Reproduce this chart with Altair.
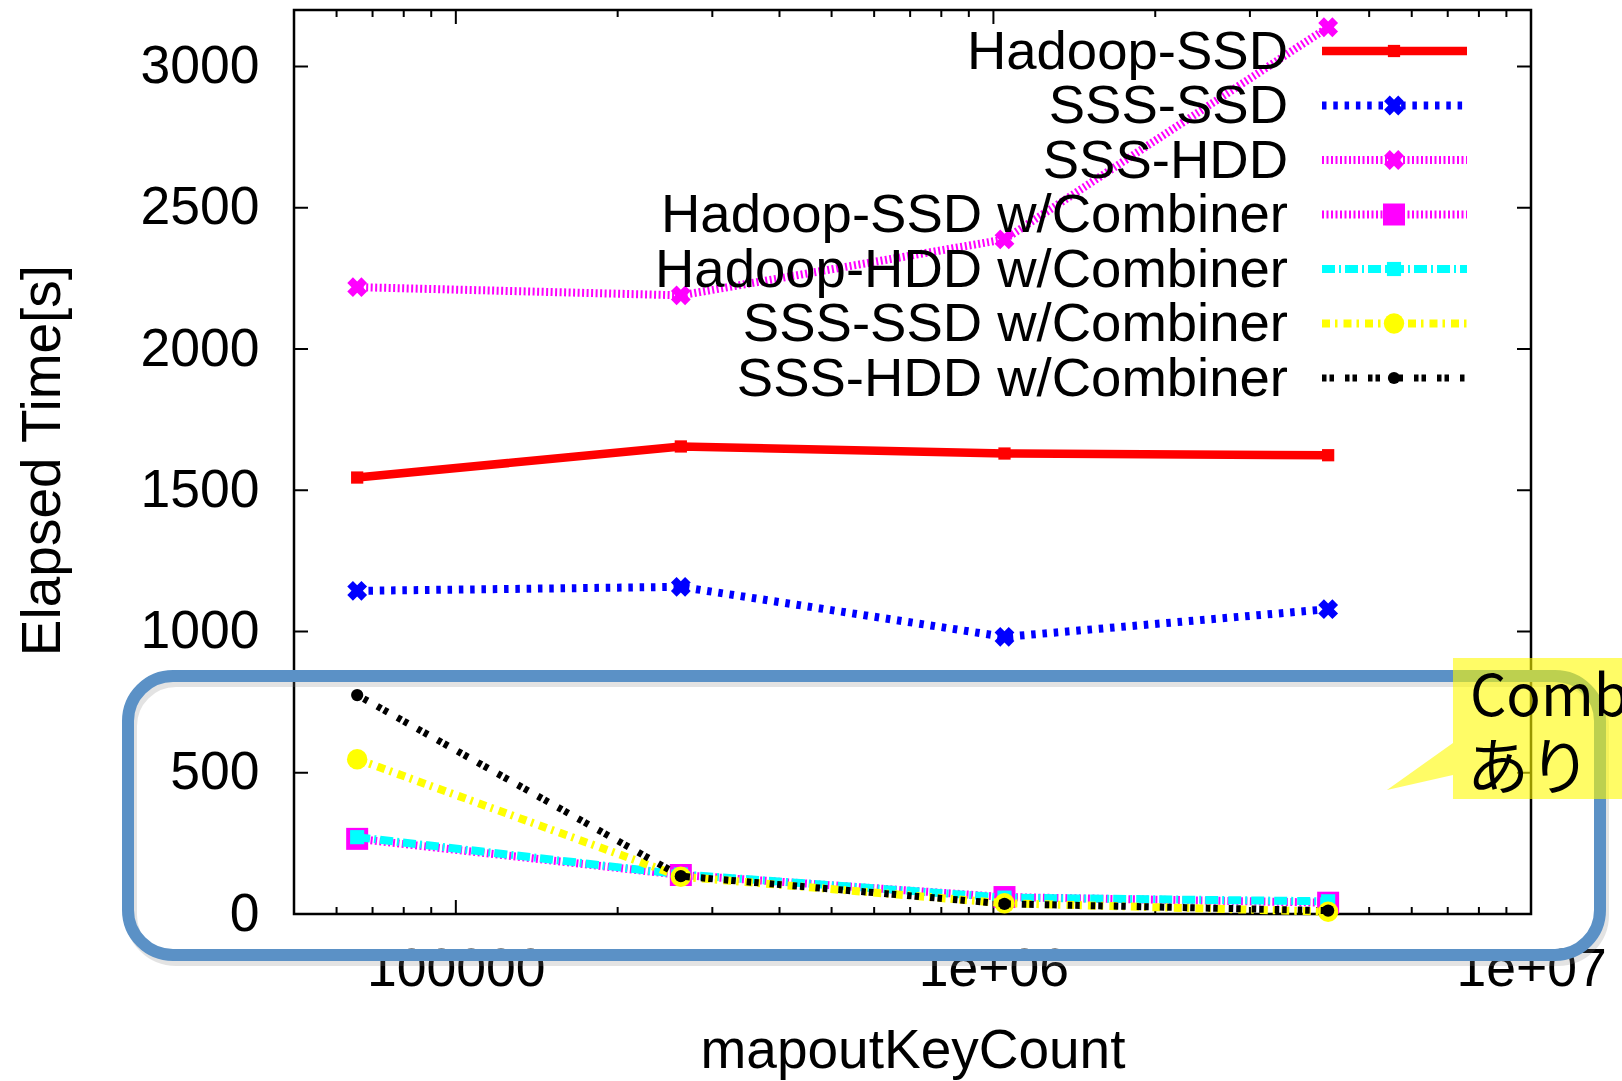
import altair as alt
import pandas as pd

# ---------------- data ----------------
x_keys = [65536, 262144, 1048576, 4194304]
series_names = [
    "Hadoop-SSD",
    "SSS-SSD",
    "SSS-HDD",
    "Hadoop-SSD w/Combiner",
    "Hadoop-HDD w/Combiner",
    "SSS-SSD w/Combiner",
    "SSS-HDD w/Combiner",
]
hadoop_ssd = [1545, 1655, 1630, 1624]
sss_ssd = [1144, 1158, 981, 1079]
sss_hdd = [2219, 2190, 2388, 3139]
hadoop_ssd_comb = [266, 138, 60, 40]
hadoop_hdd_comb = [272, 140, 58, 45]
sss_ssd_comb = [548, 132, 38, 8]
sss_hdd_comb = [775, 134, 36, 12]
series_values = [hadoop_ssd, sss_ssd, sss_hdd, hadoop_ssd_comb,
                 hadoop_hdd_comb, sss_ssd_comb, sss_hdd_comb]

x_tick_values = [100000, 1000000, 10000000]
x_tick_labels = ["100000", "1e+06", "1e+07"]
x_minor_ticks = [60000, 70000, 80000, 90000,
                 200000, 300000, 400000, 500000, 600000, 700000, 800000, 900000,
                 2000000, 3000000, 4000000, 5000000, 6000000, 7000000, 8000000, 9000000]
x_major_inner = [100000, 1000000]
y_tick_values = [0, 500, 1000, 1500, 2000, 2500, 3000]

annot_line1 = "Combiner"
annot_line2 = "あり"

# ---------------- styles ----------------
colors = ["#FF0000", "#0000FF", "#FF00FF", "#FF00FF", "#00FFFF", "#FFFF00", "#000000"]
dashes = [None, [4.5, 6.8], [2, 2.5], [2, 2.5], [13, 4, 2, 4], [8, 5, 2.5, 6], [4.5, 3, 4.5, 11]]
widths = [8.5, 8, 8, 8, 8, 8, 7]
shapes = ["square", "cross", "cross", "square", "square", "circle", "circle"]
angles = [0, 45, 45, 0, 0, 0, 0]
sizes = [150, 400, 400, 484, 200, 415, 150]

W, H = 1237, 904
FONT = "Liberation Sans"
FS_LEG = 54.5
FS_TITLE = 55
FS_TICK = 53.5

rows = []
for name, vals in zip(series_names, series_values):
    for xv, yv in zip(x_keys, vals):
        rows.append({"series": name, "x": xv, "y": yv})
df = pd.DataFrame(rows)
one = pd.DataFrame({"a": [0]})

xscale = alt.Scale(type="log", domain=[50000, 10000000], nice=False)
yscale = alt.Scale(domain=[0, 3200], nice=False, zero=False)

label_expr = " : ".join(
    f"datum.value == {v} ? '{l}'" for v, l in zip(x_tick_values[:-1], x_tick_labels[:-1])
) + f" : '{x_tick_labels[-1]}'"

xaxis = alt.Axis(values=x_tick_values, labelExpr=label_expr, domain=False, ticks=False,
                 grid=False, labelFont=FONT, labelFontSize=FS_TICK, labelColor="black",
                 labelPadding=29, labelFlush=False, labelOverlap=False,
                 title="mapoutKeyCount", titleFont=FONT, titleFontSize=FS_TITLE,
                 titleFontWeight="normal", titleColor="black", titleX=W / 2, titleY=153,
                 titleAlign="center", titleBaseline="alphabetic")
yaxis = alt.Axis(values=y_tick_values, format="d", domain=False, ticks=False, grid=False,
                 labelFont=FONT, labelFontSize=FS_TICK, labelColor="black", labelPadding=35,
                 labelFlush=False, labelOverlap=False,
                 title="Elapsed Time[s]", titleFont=FONT, titleFontSize=FS_TITLE,
                 titleFontWeight="normal", titleColor="black", titleAngle=270,
                 titleX=-235, titleY=450, titleAlign="center", titleBaseline="alphabetic")


def X():
    return alt.X("x:Q", scale=xscale, axis=xaxis)


def Y():
    return alt.Y("y:Q", scale=yscale, axis=yaxis)


layers = []

# ticks (inward, gnuplot style)
tx_major = pd.DataFrame({"x": x_major_inner})
tx_minor = pd.DataFrame({"x": x_minor_ticks})
ty = pd.DataFrame({"y": y_tick_values[1:]})
for y0, y1, d in [(H, H - 14, tx_major), (0, 14, tx_major), (H, H - 7, tx_minor), (0, 7, tx_minor)]:
    layers.append(alt.Chart(d).mark_rule(color="black", strokeWidth=2).encode(
        x=X(), y=alt.value(y0), y2=alt.value(y1)))
for x0, x1 in [(0, 14), (W, W - 14)]:
    layers.append(alt.Chart(ty).mark_rule(color="black", strokeWidth=2).encode(
        y=Y(), x=alt.value(x0), x2=alt.value(x1)))

# data lines and points
for i, name in enumerate(series_names):
    base = alt.Chart(df).transform_filter(alt.datum.series == name)
    lkw = dict(color=colors[i], strokeWidth=widths[i], strokeCap="butt")
    if dashes[i] is not None:
        lkw["strokeDash"] = dashes[i]
    layers.append(base.mark_line(**lkw).encode(x=X(), y=Y()))
    layers.append(base.mark_point(filled=True, shape=shapes[i], size=sizes[i],
                                  angle=angles[i], color=colors[i], opacity=1,
                                  strokeWidth=0).encode(x=X(), y=Y()))

# legend (gnuplot style, inside top-right)
for i, name in enumerate(series_names):
    yrow = 41 + 54.5 * i
    lkw = dict(color=colors[i], strokeWidth=widths[i], strokeCap="butt")
    if dashes[i] is not None:
        lkw["strokeDash"] = dashes[i]
    layers.append(alt.Chart(one).mark_rule(**lkw).encode(
        x=alt.value(1028), x2=alt.value(1173), y=alt.value(yrow)))
    layers.append(alt.Chart(one).mark_point(filled=True, shape=shapes[i], size=sizes[i],
                                            angle=angles[i], color=colors[i], opacity=1,
                                            strokeWidth=0).encode(
        x=alt.value(1100), y=alt.value(yrow)))
    layers.append(alt.Chart(one).mark_text(text=name, font=FONT, fontSize=FS_LEG, color="black",
                                           align="right", baseline="alphabetic").encode(
        x=alt.value(994), y=alt.value(yrow + 17.8)))

# rounded highlight box (shadow + blue stroke)
layers.append(alt.Chart(one).mark_rect(filled=False, color="#808080", opacity=0.22,
                                       strokeWidth=12, cornerRadius=45).encode(
    x=alt.value(128 - 294 + 3), x2=alt.value(1600 - 294 + 3),
    y=alt.value(676 - 10 + 5), y2=alt.value(955 - 10 + 5)))
layers.append(alt.Chart(one).mark_rect(filled=False, color="#5B91C6",
                                       strokeWidth=12, cornerRadius=45).encode(
    x=alt.value(128 - 294), x2=alt.value(1600 - 294),
    y=alt.value(676 - 10), y2=alt.value(955 - 10)))

# callout
callout_path = ("M-0.477,-0.538 L0.962,-0.538 L0.962,0.546 L-0.477,0.546 "
                "L-0.477,0.362 L-0.985,0.477 L-0.477,0.115 Z")
layers.append(alt.Chart(one).mark_point(filled=True, shape=callout_path, size=67600,
                                        color="#FFFA00", opacity=0.6, strokeWidth=0).encode(
    x=alt.value(1515 - 294), y=alt.value(728 - 10)))
layers.append(alt.Chart(one).mark_text(text=annot_line1, font="Noto Sans CJK JP", fontSize=57,
                                       color="black", align="left", baseline="alphabetic").encode(
    x=alt.value(1470 - 294), y=alt.value(716 - 10)))
layers.append(alt.Chart(one).mark_text(text=annot_line2, font="Noto Sans CJK JP", fontSize=62,
                                       color="black", align="left", baseline="alphabetic").encode(
    x=alt.value(1467 - 294), y=alt.value(790 - 10)))

chart = alt.layer(*layers).properties(
    width=W, height=H,
    padding={"left": 294, "top": 10, "right": 91, "bottom": 167},
    autosize="none",
    background="white",
).configure_view(stroke="black", strokeWidth=2.5)

chart.save("out.html", embed_options={"renderer": "svg", "actions": False})
